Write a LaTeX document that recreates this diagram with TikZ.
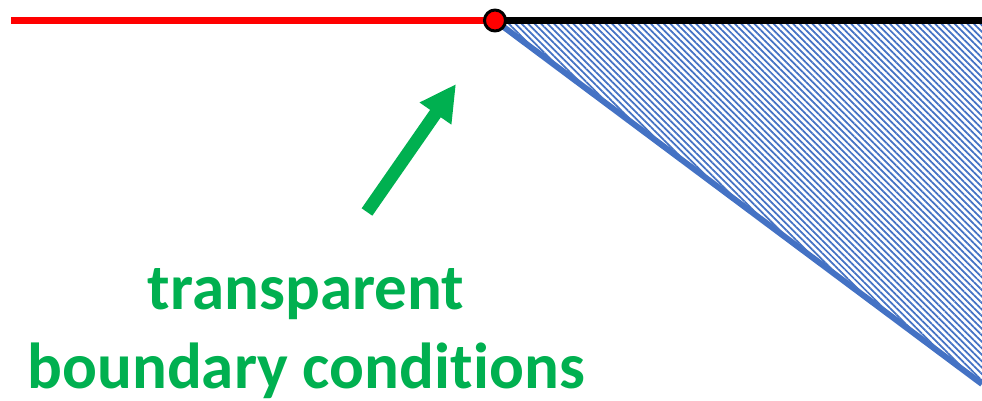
\documentclass[tikz,border=0pt]{standalone}
\usepackage{fontspec}
\setmainfont{Carlito}[Ligatures=NoCommon]
\usetikzlibrary{arrows.meta,patterns.meta}
\definecolor{bcgreen}{RGB}{0,176,80}
\definecolor{wedgeblue}{RGB}{68,114,196}
\begin{document}
\begin{tikzpicture}[x=0.02cm,y=-0.02cm,line join=round]
\useasboundingbox (0,0) rectangle (982,400);

\coordinate (L) at (11,20.5);
\coordinate (P) at (495,20.5);
\coordinate (R) at (982,20.5);
\coordinate (W) at (982,384);
\coordinate (tail) at (367,212);
\coordinate (tip) at (456,84);

% hatched wedge
\fill[pattern={Lines[angle=-45,distance=2.6pt,line width=1pt]},pattern color=wedgeblue]
  (P)--(R)--(W)--cycle;

\draw[red,line width=4pt] (L)--(P);
\draw[black,line width=4pt] (P)--(R);
\draw[wedgeblue,line width=3.4pt] (P)--(W);

\node[circle,fill=red,draw=black,line width=1.7pt,minimum size=0.42cm,inner sep=0pt] (dot) at (P) {};

\draw[bcgreen,line width=0.26cm,-{Triangle[width=0.72cm,length=0.72cm]}] (tail)--(tip);

\node[bcgreen,font=\bfseries\fontsize{37pt}{44.5pt}\selectfont,align=center,anchor=base] (bc) at (306,388)
  {transparent\\boundary conditions};
\end{tikzpicture}
\end{document}
